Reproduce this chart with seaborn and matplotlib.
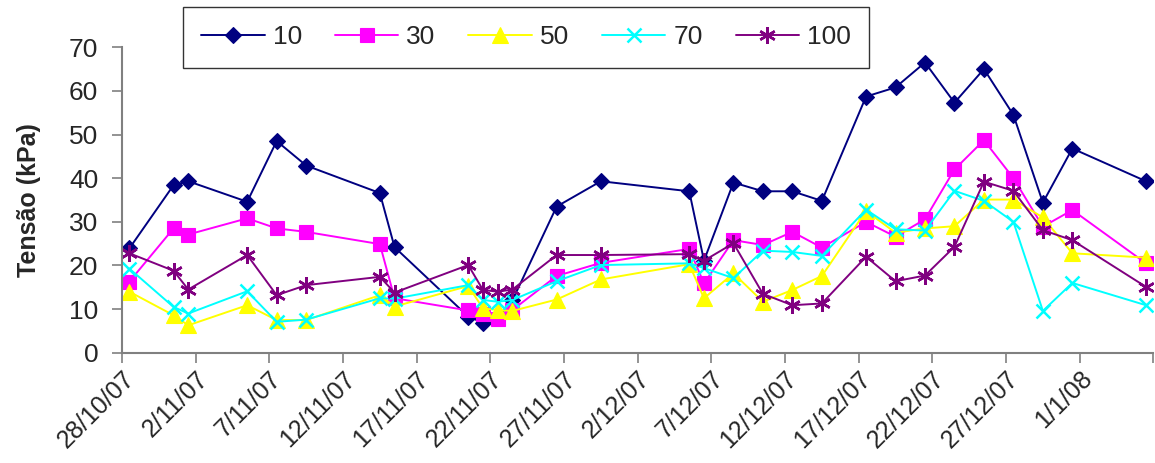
import numpy as np
import pandas as pd
import seaborn as sns
import matplotlib.pyplot as plt

#%% data (tension, kPa)
dates = ['28/10/07', '31/10/07', '1/11/07', '5/11/07', '7/11/07', '9/11/07', '14/11/07', '15/11/07',
         '20/11/07', '21/11/07', '22/11/07', '23/11/07', '26/11/07', '29/11/07', '5/12/07', '6/12/07',
         '8/12/07', '10/12/07', '12/12/07', '14/12/07', '17/12/07', '19/12/07', '21/12/07', '23/12/07',
         '25/12/07', '27/12/07', '29/12/07', '31/12/07', '5/1/08']
s10 = [23.9, 38.4, 39.3, 34.6, 48.5, 42.9, 36.6, 24.2, 8.3, 6.9, 8.0, 12.0, 33.5, 39.3, 37.0, 21.1,
       39.0, 37.0, 37.0, 34.8, 58.7, 60.8, 66.5, 57.3, 65.0, 54.5, 34.4, 46.8, 39.3]
s30 = [16.3, 28.5, 27.1, 30.8, 28.5, 27.7, 24.9, 12.5, 9.7, 9.0, 7.7, 9.8, 17.6, 20.6, 23.8, 15.9,
       25.8, 24.7, 27.7, 24.1, 30.0, 26.6, 30.6, 42.0, 48.7, 40.0, 28.9, 32.7, 20.5]
s50 = [14.0, 8.6, 6.3, 10.9, 7.5, 7.5, 13.2, 10.6, 15.3, 10.2, 9.8, 9.6, 12.2, 16.8, 20.3, 12.5,
       18.2, 11.7, 14.4, 17.6, 32.5, 27.5, 28.5, 29.0, 35.1, 35.1, 31.0, 22.8, 21.8]
s70 = [19.3, 10.5, 9.0, 14.1, 7.1, 7.6, 12.5, 12.4, 15.5, 12.1, 11.7, 12.1, 16.4, 20.1, 20.5, 19.4,
       17.1, 23.4, 23.1, 22.2, 32.8, 28.3, 28.0, 37.1, 34.8, 30.0, 9.6, 16.0, 10.9]
s100 = [22.8, 18.8, 14.5, 22.4, 13.2, 15.5, 17.4, 13.8, 20.1, 14.4, 14.0, 14.5, 22.4, 22.4, 22.6, 21.1,
        25.1, 13.5, 10.9, 11.3, 22.0, 16.4, 17.7, 24.3, 39.2, 37.1, 28.1, 25.8, 15.1]
series = ['10', '30', '50', '70', '100']
values = [s10, s30, s50, s70, s100]

#%% styles
colors = ['#000080', '#FF00FF', '#FFFF00', '#00FFFF', '#800080']
markers = ['D', 's', '^', 'x', (6, 2, 0)]
msizes = [8.5, 10, 11, 10, 12]

sns.set_style('white')
plt.rcParams['font.family'] = ['Liberation Sans', 'DejaVu Sans']

# measurements were taken around midday
x = pd.to_datetime(dates, format='%d/%m/%y') + pd.Timedelta(hours=12)

fig = plt.figure(figsize=(11.55, 4.63), dpi=100)
ax = fig.add_axes([0.1056, 0.238, 0.893, 0.660])

for name, vals, c, m, ms in zip(series, values, colors, markers, msizes):
    thin = m in ('x',) or isinstance(m, tuple)
    sns.lineplot(x=x, y=vals, ax=ax, color=c, marker=m, markersize=ms, linewidth=1.4,
                 markeredgecolor=c, markeredgewidth=1.8 if thin else 0.8, label=name)

#%% axes
ax.set_ylim(0, 70)
ax.set_yticks(np.arange(0, 71, 10))
ticks = pd.date_range('2007-10-28', '2008-01-06', freq='5D')
ax.set_xlim(ticks[0], ticks[-1])
ax.set_xticks(ticks)
ax.set_xticklabels([f'{t.day}/{t.month}/{t.strftime("%y")}' for t in ticks[:-1]] + [''],
                   rotation=45, ha='right', va='top', rotation_mode='anchor', fontsize=18)
ax.tick_params(axis='y', labelsize=19, length=7, width=1.2, color='#808080', direction='out',
               left=True, pad=10)
ax.tick_params(axis='x', length=7, width=1.2, color='#808080', direction='out', bottom=True, pad=3)
for s in ['top', 'right']:
    ax.spines[s].set_visible(False)
for s in ['left', 'bottom']:
    ax.spines[s].set_color('#808080')
    ax.spines[s].set_linewidth(1.5)
ax.set_xlabel('')
ax.set_ylabel('Tensão (kPa)', fontsize=18, fontweight='bold', labelpad=20)

#%% legend
h, l = ax.get_legend_handles_labels()
leg = ax.legend(h, l, ncol=5, loc='upper left', bbox_to_anchor=(183 / 1155, 1 - 7 / 463),
                bbox_transform=fig.transFigure, borderaxespad=0, fontsize=19, frameon=True,
                fancybox=False, edgecolor='black', handlelength=2.4, columnspacing=1.25,
                borderpad=0.7, handletextpad=0.3)
leg.get_frame().set_linewidth(1.0)

fig.savefig('out.png', dpi=100)
